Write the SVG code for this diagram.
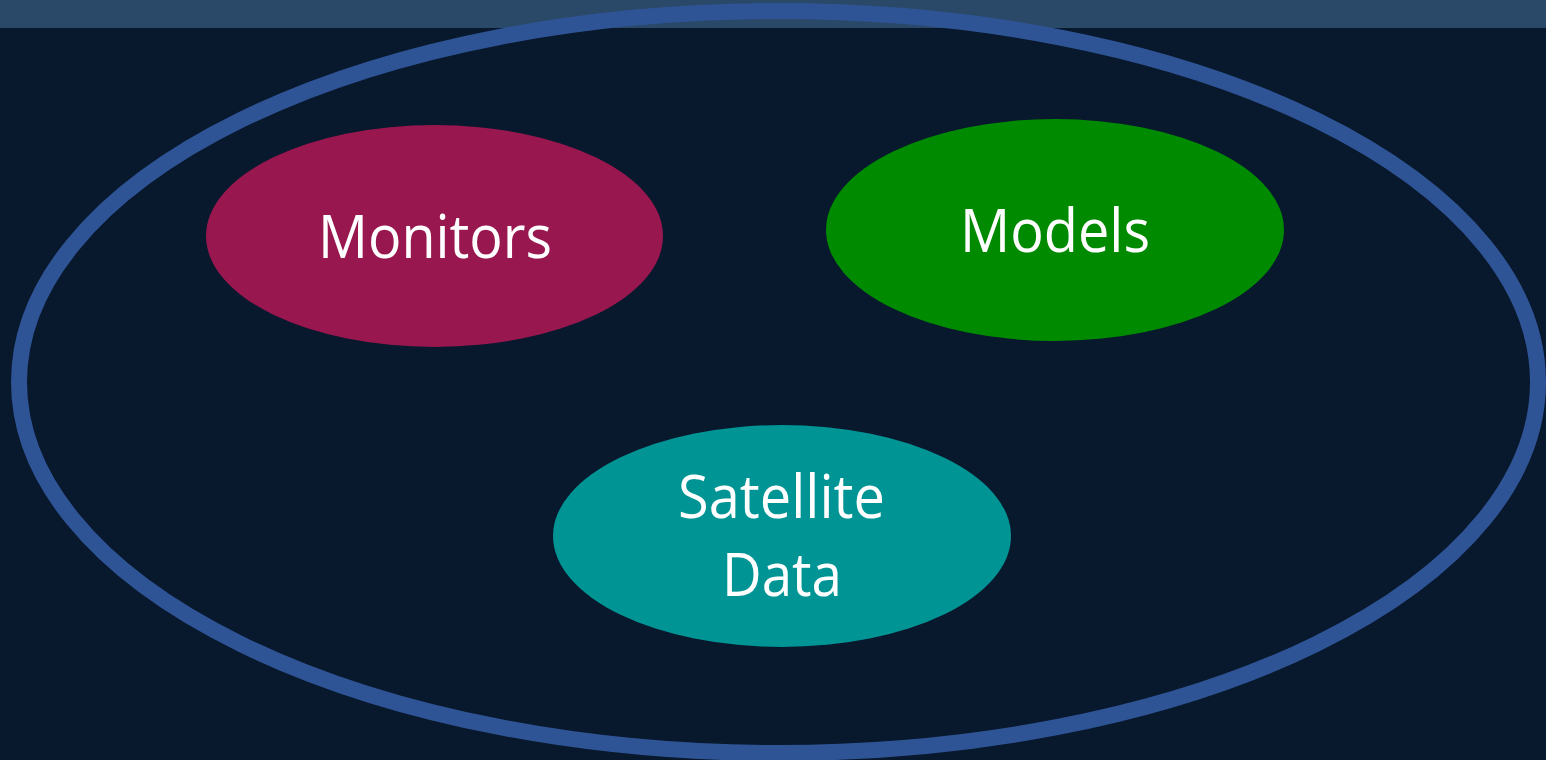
<svg xmlns="http://www.w3.org/2000/svg" width="1546" height="760" viewBox="0 0 1546 760">
<style>
.lbl{font-family:"Open Sans","Liberation Sans",sans-serif;font-size:60px;fill:#ffffff;text-anchor:middle}
</style>
<rect x="0" y="0" width="1546" height="760" fill="#08182d"/>
<rect x="0" y="0" width="1546" height="28" fill="#2a4868"/>
<g id="boundary">
<ellipse cx="778.5" cy="382" rx="759.5" ry="371" fill="none" stroke="#2f5496" stroke-width="16"/>
</g>
<g id="monitors">
<ellipse cx="434.5" cy="236" rx="228.5" ry="111" fill="#98174f"/>
<text class="lbl" x="435" y="258" textLength="234" lengthAdjust="spacingAndGlyphs">Monitors</text>
</g>
<g id="models">
<ellipse cx="1055" cy="230" rx="229" ry="111" fill="#008a00"/>
<text class="lbl" x="1055" y="252" textLength="190" lengthAdjust="spacingAndGlyphs">Models</text>
</g>
<g id="satellite">
<ellipse cx="782" cy="536" rx="229" ry="111" fill="#009494"/>
<text class="lbl" x="781.5" y="518" textLength="207" lengthAdjust="spacingAndGlyphs">Satellite</text>
<text class="lbl" x="782" y="596" textLength="120" lengthAdjust="spacingAndGlyphs">Data</text>
</g>
<g id="connectors"/>
</svg>
